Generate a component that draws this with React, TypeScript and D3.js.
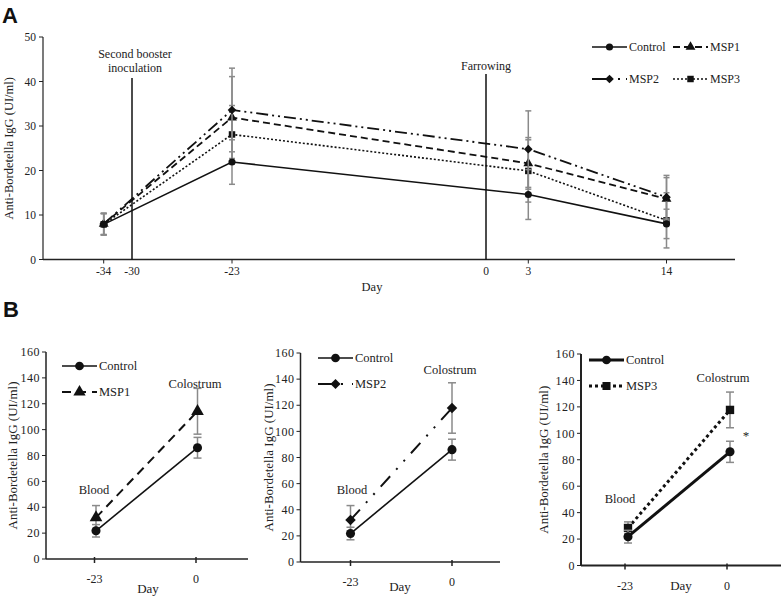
import React from "react";
import * as d3 from "d3";

// ---------- Panel A data ----------
const A_DAYS = [-34, -23, 3, 14];
const A_TICKS = [-34, -30, -23, 0, 3, 14];
const A_MARKED_TICKS = [-34, -23, 3, 14];
const A_Y_TICKS = [0, 10, 20, 30, 40, 50];
const A_CONTROL = [7.9, 21.9, 14.6, 8.0];
const A_CONTROL_ERR = [2.4, 5.0, 5.6, 3.3];
const A_MSP1 = [8.0, 31.9, 21.6, 13.6];
const A_MSP1_ERR = [2.4, 9.2, 5.8, 4.8];
const A_MSP2 = [8.0, 33.6, 24.8, 14.0];
const A_MSP2_ERR = [2.4, 9.4, 8.6, 4.9];
const A_MSP3 = [7.9, 28.1, 19.9, 8.8];
const A_MSP3_ERR = [2.4, 6.5, 7.0, 6.2];
const A_EVENTS = [
  { day: -30, lines: ["Second booster", "inoculation"] },
  { day: 0, lines: ["Farrowing"] },
];

// ---------- Panel B data ----------
const B_DAYS = [-23, 0];
const B_Y_TICKS = [0, 20, 40, 60, 80, 100, 120, 140, 160];
const B_CONTROL = [21.8, 86.0];
const B_CONTROL_ERR = [4.8, 8.0];
const B_MSP1 = [32.0, 114.2];
const B_MSP1_ERR = [9.3, 17.7];
const B_MSP2 = [32.2, 117.9];
const B_MSP2_ERR = [11.0, 19.3];
const B_MSP3 = [28.4, 117.7];
const B_MSP3_ERR = [4.6, 13.5];

const FONT = "'Liberation Serif', 'Times New Roman', serif";
const GREY = "#8a8a8a";

type Sym = d3.SymbolType;

function sym(type: Sym, size: number) {
  return d3.symbol().type(type).size(size)() as string;
}

function Series(props: {
  x: (d: number) => number;
  y: (v: number) => number;
  days: number[];
  vals: number[];
  errs: number[];
  dash?: string;
  width: number;
  type: Sym;
  size: number;
  cap: number;
  dx?: number;
}) {
  const { x, y, days, vals, errs, dash, width, type, size, cap } = props;
  const dx = props.dx || 0;
  const line = d3
    .line<number>()
    .x((_, i) => x(days[i]) + dx)
    .y((v) => y(v));
  return (
    <g>
      <path d={line(vals) as string} fill="none" stroke="#111" strokeWidth={width} strokeDasharray={dash} />
      {vals.map((v, i) => {
        const cx = x(days[i]) + dx;
        const y1 = y(v + errs[i]);
        const y2 = y(v - errs[i]);
        return (
          <g key={i}>
            <line x1={cx} x2={cx} y1={y1} y2={y2} stroke={GREY} strokeWidth={1.5} />
            <line x1={cx - cap} x2={cx + cap} y1={y1} y2={y1} stroke={GREY} strokeWidth={1.5} />
            <line x1={cx - cap} x2={cx + cap} y1={y2} y2={y2} stroke={GREY} strokeWidth={1.5} />
          </g>
        );
      })}
      {vals.map((v, i) => (
        <path key={"m" + i} d={sym(type, size)} transform={`translate(${x(days[i]) + dx},${y(v)})`} fill="#111" />
      ))}
    </g>
  );
}

function LegendItem(props: {
  x1: number;
  x2: number;
  y: number;
  label: string;
  dash?: string;
  width: number;
  type: Sym;
  size: number;
  fs: number;
}) {
  const { x1, x2, y, label, dash, width, type, size, fs } = props;
  return (
    <g>
      <line x1={x1} x2={x2} y1={y} y2={y} stroke="#111" strokeWidth={width} strokeDasharray={dash} />
      <path d={sym(type, size)} transform={`translate(${(x1 + x2) / 2},${y})`} fill="#111" />
      <text x={x2 + 2} y={y} dy="0.35em" fontSize={fs} fontFamily={FONT} fill="#222">
        {label}
      </text>
    </g>
  );
}

function PanelA() {
  const x = d3.scaleLinear().domain([-34, -30, -23, 0, 3, 14]).range([103.7, 132, 232, 486, 528.3, 666.5]);
  const y = d3.scaleLinear().domain([0, 50]).range([259.5, 37]);
  const axisLeft = 43;
  const axisRight = 735;
  return (
    <g>
      <line x1={axisLeft} x2={axisLeft} y1={y(50)} y2={y(0)} stroke="#222" strokeWidth={1.2} />
      {A_Y_TICKS.map((t) => (
        <g key={t}>
          <line x1={axisLeft - 4} x2={axisLeft} y1={y(t)} y2={y(t)} stroke="#222" strokeWidth={1} />
          <text x={axisLeft - 7} y={y(t)} dy="0.35em" textAnchor="end" fontSize={11.5} fontFamily={FONT} fill="#222">
            {t}
          </text>
        </g>
      ))}
      <line x1={axisLeft} x2={axisRight} y1={y(0)} y2={y(0)} stroke="#222" strokeWidth={1.5} />
      {A_MARKED_TICKS.map((t) => (
        <line key={t} x1={x(t)} x2={x(t)} y1={y(0)} y2={y(0) + 4} stroke="#222" strokeWidth={1} />
      ))}
      {A_TICKS.map((t) => (
        <text key={t} x={x(t)} y={y(0) + 11} dy="0.35em" textAnchor="middle" fontSize={11.5} fontFamily={FONT} fill="#222">
          {t}
        </text>
      ))}
      <text x={372} y={287} dy="0.35em" textAnchor="middle" fontSize={12.5} fontFamily={FONT} fill="#222">
        Day
      </text>
      <text
        transform={`translate(9,${(y(0) + y(50)) / 2}) rotate(-90)`}
        textAnchor="middle"
        dy="0.35em"
        fontSize={12.5}
        fontFamily={FONT}
        fill="#222"
      >
        Anti-Bordetella IgG (UI/ml)
      </text>
      {A_EVENTS.map((e) => (
        <g key={e.day}>
          <line x1={x(e.day)} x2={x(e.day)} y1={e.day === 0 ? 74 : 78} y2={y(0)} stroke="#111" strokeWidth={1.5} />
          {e.lines.map((l, i) => (
            <text
              key={l}
              x={x(e.day) + (e.day === 0 ? 0 : 3)}
              y={(e.day === 0 ? 66 : 54) + i * 13.5}
              dy="0.35em"
              textAnchor="middle"
              fontSize={12}
              fontFamily={FONT}
              fill="#222"
            >
              {l}
            </text>
          ))}
        </g>
      ))}
      <Series x={x} y={y} days={A_DAYS} vals={A_MSP3} errs={A_MSP3_ERR} dash="2,2" width={1.6} type={d3.symbolSquare} size={42} cap={3} />
      <Series x={x} y={y} days={A_DAYS} vals={A_MSP1} errs={A_MSP1_ERR} dash="7,4" width={1.8} type={d3.symbolTriangle} size={42} cap={3} />
      <Series x={x} y={y} days={A_DAYS} vals={A_MSP2} errs={A_MSP2_ERR} dash="12,4,2,4,2,4" width={1.8} type={d3.symbolDiamond2} size={48} cap={3} />
      <Series x={x} y={y} days={A_DAYS} vals={A_CONTROL} errs={A_CONTROL_ERR} width={1.6} type={d3.symbolCircle} size={40} cap={3} />
      <LegendItem x1={592} x2={627} y={47} label="Control" width={1.6} type={d3.symbolCircle} size={40} fs={12} />
      <LegendItem x1={673} x2={708} y={47} label="MSP1" dash="7,4" width={1.8} type={d3.symbolTriangle} size={42} fs={12} />
      <LegendItem x1={592} x2={627} y={79} label="MSP2" dash="20,6,2,6" width={1.8} type={d3.symbolDiamond2} size={48} fs={12} />
      <LegendItem x1={673} x2={708} y={79} label="MSP3" dash="2,2" width={1.6} type={d3.symbolSquare} size={42} fs={12} />
    </g>
  );
}

function PanelB(props: {
  left: number;
  right: number;
  y0: number;
  y160: number;
  xa: number;
  xb: number;
  dx: number;
  labelX: number;
  dayX: number;
  dayY: number;
  vals: number[];
  errs: number[];
  name: string;
  dash: string;
  type: Sym;
  width: number;
  ctlWidth: number;
  axisW: number;
  legX: number;
  legY: number;
  colX: number;
  colY: number;
  bloodX: number;
  bloodY: number;
  star?: boolean;
}) {
  const p = props;
  const x = d3.scaleLinear().domain([-23, 0]).range([p.xa, p.xb]);
  const y = d3.scaleLinear().domain([0, 160]).range([p.y0, p.y160]);
  return (
    <g>
      <line x1={p.left} x2={p.left} y1={y(160)} y2={y(0)} stroke="#222" strokeWidth={p.axisW} />
      {B_Y_TICKS.map((t) => (
        <g key={t}>
          <line x1={p.left - 4} x2={p.left} y1={y(t)} y2={y(t)} stroke="#222" strokeWidth={1} />
          <text x={p.left - 6} y={y(t)} dy="0.35em" textAnchor="end" fontSize={12} fontFamily={FONT} fill="#222" letterSpacing={0.5}>
            {t}
          </text>
        </g>
      ))}
      <line x1={p.left} x2={p.right} y1={y(0)} y2={y(0)} stroke="#222" strokeWidth={p.axisW} />
      {B_DAYS.map((t) => (
        <g key={t}>
          <line x1={x(t)} x2={x(t)} y1={y(0) - 2} y2={y(0) + 4} stroke="#222" strokeWidth={1.5} />
          <text x={x(t)} y={y(0) + 20} dy="0.35em" textAnchor="middle" fontSize={12} fontFamily={FONT} fill="#222">
            {t}
          </text>
        </g>
      ))}
      <text x={p.dayX} y={p.dayY} dy="0.35em" textAnchor="middle" fontSize={13} fontFamily={FONT} fill="#222">
        Day
      </text>
      <text
        transform={`translate(${p.labelX},${(y(0) + y(160)) / 2}) rotate(-90)`}
        textAnchor="middle"
        dy="0.35em"
        fontSize={13}
        fontFamily={FONT}
        fill="#222"
      >
        Anti-Bordetella IgG (UI/ml)
      </text>
      <text x={p.colX} y={p.colY} dy="0.35em" textAnchor="middle" fontSize={12.5} fontFamily={FONT} fill="#222">
        Colostrum
      </text>
      <text x={p.bloodX} y={p.bloodY} dy="0.35em" textAnchor="middle" fontSize={12.5} fontFamily={FONT} fill="#222">
        Blood
      </text>
      <Series x={x} y={y} days={B_DAYS} vals={p.vals} errs={p.errs} dash={p.dash} width={p.width} type={p.type} size={70} cap={4} dx={p.dx} />
      <Series x={x} y={y} days={B_DAYS} vals={B_CONTROL} errs={B_CONTROL_ERR} width={p.ctlWidth} type={d3.symbolCircle} size={65} cap={4} dx={p.dx} />
      {p.star && (
        <text x={x(0) + 19} y={y(100) + 2} dy="0.35em" textAnchor="middle" fontSize={13} fontFamily={FONT} fill="#222">
          *
        </text>
      )}
      <LegendItem x1={p.legX} x2={p.legX + 35} y={p.legY} label="Control" width={p.ctlWidth} type={d3.symbolCircle} size={60} fs={12.5} />
      <LegendItem x1={p.legX} x2={p.legX + 35} y={p.legY + 26} label={p.name} dash={p.dash} width={p.width} type={p.type} size={65} fs={12.5} />
    </g>
  );
}

export default function App() {
  return (
    <svg width={781} height={598} style={{ position: "absolute", left: 0, top: 0, background: "#fff" }}>
      <rect width={781} height={598} fill="#fff" />
      <text x={2} y={23} fontSize={22} fontWeight="bold" fontFamily="'Liberation Sans', Arial, sans-serif" fill="#111">
        A
      </text>
      <text x={3} y={317} fontSize={22} fontWeight="bold" fontFamily="'Liberation Sans', Arial, sans-serif" fill="#111">
        B
      </text>
      <PanelA />
      <PanelB
        left={46} right={248} y0={559} y160={352} xa={94.5} xb={196} dx={1.5} labelX={12} dayX={148} dayY={588}
        vals={B_MSP1} errs={B_MSP1_ERR} name="MSP1" dash="9,6" type={d3.symbolTriangle} width={2} ctlWidth={1.6} axisW={1.5}
        legX={62} legY={366} colX={195} colY={384} bloodX={94} bloodY={490}
      />
      <PanelB
        left={300.5} right={500} y0={562} y160={353} xa={350.5} xb={452} dx={0} labelX={268} dayX={400} dayY={586}
        vals={B_MSP2} errs={B_MSP2_ERR} name="MSP2" dash="14,9,2,9,2,9" type={d3.symbolDiamond2} width={2} ctlWidth={1.6} axisW={1.5}
        legX={318} legY={358} colX={450} colY={370} bloodX={352} bloodY={490}
      />
      <PanelB
        left={581} right={781} y0={565.5} y160={354} xa={625} xb={727} dx={3} labelX={543} dayX={681} dayY={585}
        vals={B_MSP3} errs={B_MSP3_ERR} name="MSP3" dash="3,3" type={d3.symbolSquare} width={3} ctlWidth={3} axisW={2}
        legX={589} legY={360} colX={723} colY={378} bloodX={620} bloodY={499} star
      />
    </svg>
  );
}
